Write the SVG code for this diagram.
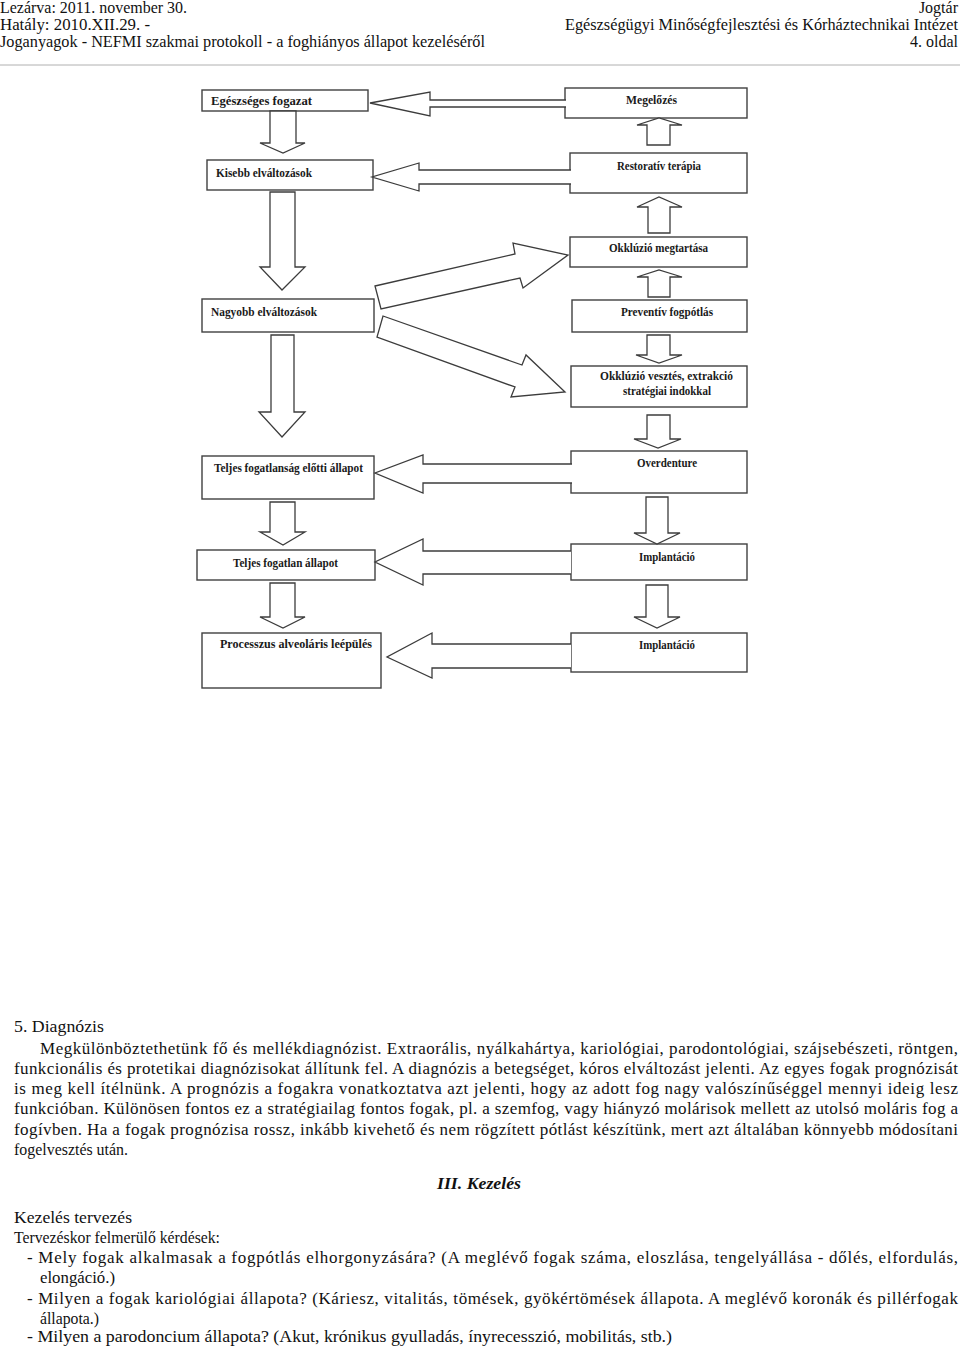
<svg xmlns="http://www.w3.org/2000/svg" width="960" height="1352" viewBox="0 0 960 1352">
<style>
.bg{fill:#ffffff}
.hd{font-family:"Liberation Serif","Times New Roman",serif;font-size:16px;fill:#111}
.bd{font-family:"Liberation Serif","Times New Roman",serif;font-size:17px;fill:#111}
.ttl{font-family:"Liberation Serif","Times New Roman",serif;font-size:17px;font-weight:bold;font-style:italic;fill:#111}
.box{fill:#fff;stroke:#404040;stroke-width:1.4}
.lbl{font-family:"Liberation Serif","Times New Roman",serif;font-size:12px;font-weight:bold;fill:#1a1a1a}
.arr{fill:#fff;stroke:#3c3c3c;stroke-width:1.3;stroke-linejoin:miter}
</style>
<rect class="bg" x="0" y="0" width="960" height="1352"/>

<g id="header">
<text class="hd" x="0" y="13" textLength="187" lengthAdjust="spacingAndGlyphs">Lezárva: 2011. november 30.</text>
<text class="hd" x="0" y="30" textLength="150" lengthAdjust="spacingAndGlyphs">Hatály: 2010.XII.29. -</text>
<text class="hd" x="0" y="47" textLength="485" lengthAdjust="spacingAndGlyphs">Joganyagok - NEFMI szakmai protokoll - a foghiányos állapot kezeléséről</text>
<text class="hd" x="958" y="13" text-anchor="end">Jogtár</text>
<text class="hd" x="958" y="30" text-anchor="end" textLength="393" lengthAdjust="spacingAndGlyphs">Egészségügyi Minőségfejlesztési és Kórháztechnikai Intézet</text>
<text class="hd" x="958" y="47" text-anchor="end">4. oldal</text>
<line x1="0" y1="65" x2="960" y2="65" stroke="#b0b0b0" stroke-width="1"/>
</g>

<g id="nodes">
<g id="n-egeszseges"><rect class="box" x="202" y="90" width="166" height="21"/><text class="lbl" x="211" y="105" textLength="101" lengthAdjust="spacingAndGlyphs">Egészséges fogazat</text></g>
<g id="n-kisebb"><rect class="box" x="207" y="160" width="166" height="30"/><text class="lbl" x="216" y="177" textLength="96" lengthAdjust="spacingAndGlyphs">Kisebb elváltozások</text></g>
<g id="n-nagyobb"><rect class="box" x="202" y="299" width="172" height="33"/><text class="lbl" x="211" y="316" textLength="106" lengthAdjust="spacingAndGlyphs">Nagyobb elváltozások</text></g>
<g id="n-elotti"><rect class="box" x="202" y="456" width="172" height="43"/><text class="lbl" x="214" y="472" textLength="149" lengthAdjust="spacingAndGlyphs">Teljes fogatlanság előtti állapot</text></g>
<g id="n-fogatlan"><rect class="box" x="197" y="550" width="178" height="30"/><text class="lbl" x="233" y="567" textLength="105" lengthAdjust="spacingAndGlyphs">Teljes fogatlan állapot</text></g>
<g id="n-processzus"><rect class="box" x="202" y="633" width="179" height="55"/><text class="lbl" x="220" y="648" textLength="152" lengthAdjust="spacingAndGlyphs">Processzus alveoláris leépülés</text></g>

<g id="n-megelozes"><rect class="box" x="565" y="88" width="182" height="30"/><text class="lbl" x="626" y="104" textLength="51" lengthAdjust="spacingAndGlyphs">Megelőzés</text></g>
<g id="n-restorativ"><rect class="box" x="570" y="153" width="177" height="40"/><text class="lbl" x="617" y="170" textLength="84" lengthAdjust="spacingAndGlyphs">Restoratív terápia</text></g>
<g id="n-okkluzio-megt"><rect class="box" x="570" y="237" width="177" height="30"/><text class="lbl" x="609" y="252" textLength="99" lengthAdjust="spacingAndGlyphs">Okklúzió megtartása</text></g>
<g id="n-preventiv"><rect class="box" x="572" y="300" width="175" height="32"/><text class="lbl" x="621" y="316" textLength="92" lengthAdjust="spacingAndGlyphs">Preventív fogpótlás</text></g>
<g id="n-okkluzio-veszt"><rect class="box" x="571" y="366" width="176" height="41"/><text class="lbl" x="600" y="380" textLength="133" lengthAdjust="spacingAndGlyphs">Okklúzió vesztés, extrakció</text><text class="lbl" x="623" y="395" textLength="88" lengthAdjust="spacingAndGlyphs">stratégiai indokkal</text></g>
<g id="n-overdenture"><rect class="box" x="571" y="451" width="176" height="42"/><text class="lbl" x="637" y="467" textLength="60" lengthAdjust="spacingAndGlyphs">Overdenture</text></g>
<g id="n-implantacio1"><rect class="box" x="571" y="544" width="176" height="36"/><text class="lbl" x="639" y="561" textLength="56" lengthAdjust="spacingAndGlyphs">Implantáció</text></g>
<g id="n-implantacio2"><rect class="box" x="571" y="633" width="176" height="39"/><text class="lbl" x="639" y="649" textLength="56" lengthAdjust="spacingAndGlyphs">Implantáció</text></g>
</g>

<g id="connectors">
<!-- left column down arrows -->
<polygon class="arr" points="270,111 296,111 296,143 305,143 283,153 260,143 270,143"/>
<polygon class="arr" points="270,192 295,192 295,267 305,267 282,290 260,267 270,267"/>
<polygon class="arr" points="271,335 294,335 294,412 305,412 282,437 259,412 271,412"/>
<polygon class="arr" points="270,502 295,502 295,532 305,532 283,545 260,532 270,532"/>
<polygon class="arr" points="270,583 295,583 295,617 305,617 283,628 260,617 270,617"/>
<!-- right column up arrows -->
<polygon class="arr" points="647,145 670,145 670,125 682,125 659,118 637,125 647,125"/>
<polygon class="arr" points="648,233 670,233 670,207 682,207 659,197 637,207 648,207"/>
<polygon class="arr" points="648,297 670,297 670,277 682,277 659,270 637,277 648,277"/>
<!-- right column down arrows -->
<polygon class="arr" points="647,335 670,335 670,355 682,355 659,363 636,355 647,355"/>
<polygon class="arr" points="647,415 670,415 670,439 681,439 658,448 634,439 647,439"/>
<polygon class="arr" points="646,497 668,497 668,533 680,533 657,544 634,533 646,533"/>
<polygon class="arr" points="646,585 668,585 668,617 680,617 657,628 634,617 646,617"/>
<!-- horizontal arrows from right column to left column -->
<path class="arr" d="M566,100 L430,100 L430,92 L370,103 L430,116 L430,107 L566,107"/>
<path class="arr" d="M571,170 L419,170 L419,163 L372,177 L419,191 L419,184 L571,184"/>
<polygon class="arr" points="375,286 515,254 513,243 568,255 523,288 520,278 381,309"/>
<polygon class="arr" points="383,316 522,365 526,355 565,392 511,397 515,387 377,337"/>
<path class="arr" d="M572,464 L423,464 L423,455 L375,473 L423,493 L423,483 L572,483"/>
<path class="arr" d="M571,551 L423,551 L423,539 L375,562 L423,585 L423,574 L571,574"/>
<path class="arr" d="M571,644 L432,644 L432,633 L387,657 L432,678 L432,668 L571,668"/>
</g>

<g id="body">
<text class="bd" x="14" y="1032" textLength="90" lengthAdjust="spacingAndGlyphs">5. Diagnózis</text>
<text class="bd" x="40" y="1054" textLength="918" lengthAdjust="spacing">Megkülönböztethetünk fő és mellékdiagnózist. Extraorális, nyálkahártya, kariológiai, parodontológiai, szájsebészeti, röntgen,</text>
<text class="bd" x="14" y="1074" textLength="944" lengthAdjust="spacing">funkcionális és protetikai diagnózisokat állítunk fel. A diagnózis a betegséget, kóros elváltozást jelenti. Az egyes fogak prognózisát</text>
<text class="bd" x="14" y="1094" textLength="944" lengthAdjust="spacing">is meg kell ítélnünk. A prognózis a fogakra vonatkoztatva azt jelenti, hogy az adott fog nagy valószínűséggel mennyi ideig lesz</text>
<text class="bd" x="14" y="1114" textLength="944" lengthAdjust="spacing">funkcióban. Különösen fontos ez a stratégiailag fontos fogak, pl. a szemfog, vagy hiányzó molárisok mellett az utolsó moláris fog a</text>
<text class="bd" x="14" y="1135" textLength="944" lengthAdjust="spacing">fogívben. Ha a fogak prognózisa rossz, inkább kivehető és nem rögzített pótlást készítünk, mert azt általában könnyebb módosítani</text>
<text class="bd" x="14" y="1155" textLength="114" lengthAdjust="spacingAndGlyphs">fogelvesztés után.</text>
<text class="ttl" x="437" y="1189" textLength="84" lengthAdjust="spacingAndGlyphs">III. Kezelés</text>
<text class="bd" x="14" y="1223" textLength="118" lengthAdjust="spacingAndGlyphs">Kezelés tervezés</text>
<text class="bd" x="14" y="1243" textLength="206" lengthAdjust="spacingAndGlyphs">Tervezéskor felmerülő kérdések:</text>
<text class="bd" x="27" y="1263" textLength="931" lengthAdjust="spacing">- Mely fogak alkalmasak a fogpótlás elhorgonyzására? (A meglévő fogak száma, eloszlása, tengelyállása - dőlés, elfordulás,</text>
<text class="bd" x="40" y="1283" textLength="75" lengthAdjust="spacingAndGlyphs">elongáció.)</text>
<text class="bd" x="27" y="1304" textLength="931" lengthAdjust="spacing">- Milyen a fogak kariológiai állapota? (Káriesz, vitalitás, tömések, gyökértömések állapota. A meglévő koronák és pillérfogak</text>
<text class="bd" x="40" y="1324" textLength="59" lengthAdjust="spacingAndGlyphs">állapota.)</text>
<text class="bd" x="27" y="1342" textLength="645" lengthAdjust="spacingAndGlyphs">- Milyen a parodoncium állapota? (Akut, krónikus gyulladás, ínyrecesszió, mobilitás, stb.)</text>
</g>
</svg>
